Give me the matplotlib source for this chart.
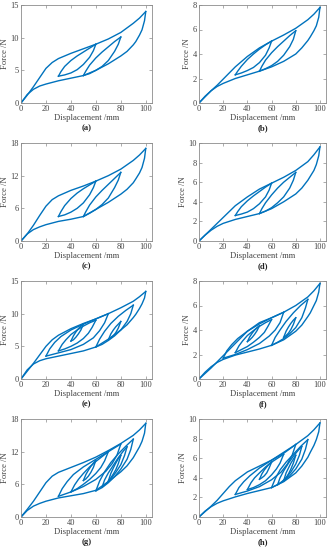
"""
Force-displacement hysteresis loops, panels (a)-(h).
"""

import matplotlib
matplotlib.use("Agg")
import matplotlib.pyplot as plt

LINE_COLOR = "#0072BD"
AXIS_COLOR = "#8c8c8c"

# shared displacement grids for outer loading / unloading branches (mm)
X_UP = [0, 5, 10, 15, 20, 25, 30, 40, 50, 60, 70, 80, 90, 95, 100]
X_DN = [100, 99, 97, 95, 92, 90, 85, 80, 70, 60, 50, 40, 30, 20, 15, 10, 5, 0]

# inner-loop displacement grids (mm)
X_60_30 = [60, 58, 55, 50, 45, 40, 35, 30]
X_30_60 = [30, 32, 35, 40, 45, 50, 55, 60]
X_50_80 = [50, 52, 55, 60, 65, 70, 75, 80]
X_80_50 = [80, 78, 75, 70, 65, 60, 55, 50]
X_70_20 = [70, 67, 63, 58, 50, 40, 30, 20]
X_20_70 = [20, 23, 27, 32, 40, 50, 60, 70]
X_60_30B = [60, 57, 54, 50, 45, 40, 35, 30]
X_30_60B = [30, 33, 36, 40, 45, 50, 55, 60]
X_50_40 = [50, 48, 46, 44, 42, 40]
X_40_50 = [40, 42, 44, 46, 48, 50]
X_60_90 = [60, 63, 67, 72, 78, 84, 90]
X_90_60 = [90, 88, 85, 80, 75, 70, 65, 60]
X_70_80 = [70, 72, 74, 76, 78, 80]
X_80_70 = [80, 78, 76, 74, 72, 70]
X_80_30 = [80, 77, 73, 68, 60, 50, 40, 30]
X_30_80 = [30, 33, 37, 42, 50, 60, 70, 80]
X_70_40 = [70, 67, 64, 60, 55, 50, 45, 40]
X_40_70 = [40, 43, 46, 50, 55, 60, 65, 70]
X_60_50 = [60, 58, 56, 54, 52, 50]
X_50_60 = [50, 52, 54, 56, 58, 60]
X_65_85 = [65, 67, 70, 74, 78, 82, 85]
X_85_65 = [85, 83, 80, 76, 72, 68, 65]

# ---- (a) ----
A_UP = [0, 1.2, 2.5, 3.9, 5.3, 6.2, 6.8, 7.6, 8.3, 9.0, 9.8, 10.8, 12.2, 13.0, 14.0]
A_DN = [14.0, 12.6, 11.2, 10.4, 9.4, 8.9, 7.9, 7.2, 6.0, 5.0, 4.2, 3.8, 3.4, 2.9, 2.6, 2.1, 1.3, 0]
A_L1_DN = [9.0, 8.0, 7.0, 5.9, 5.1, 4.6, 4.3, 4.1]
A_L1_UP = [4.1, 4.8, 5.6, 6.5, 7.2, 7.8, 8.4, 9.0]
A_L2_UP = [4.2, 4.9, 5.8, 6.9, 7.8, 8.6, 9.4, 10.1]
A_L2_DN = [10.1, 9.0, 7.9, 6.5, 5.6, 5.0, 4.5, 4.2]

# ---- (b) ----
B_UP = [0, 0.5, 1.0, 1.45, 1.95, 2.45, 2.95, 3.8, 4.5, 5.05, 5.55, 6.1, 6.8, 7.25, 7.8]
B_DN = [7.8, 7.0, 6.3, 5.9, 5.4, 5.1, 4.5, 4.0, 3.4, 2.95, 2.6, 2.3, 2.0, 1.6, 1.35, 1.0, 0.55, 0]
B_L1_DN = [5.05, 4.5, 3.9, 3.3, 2.9, 2.65, 2.45, 2.3]
B_L1_UP = [2.3, 2.6, 3.0, 3.55, 4.0, 4.4, 4.75, 5.05]
B_L2_UP = [2.6, 3.0, 3.5, 4.1, 4.6, 5.05, 5.5, 5.9]
B_L2_DN = [5.9, 5.2, 4.6, 3.9, 3.4, 3.05, 2.8, 2.6]

# ---- (c) ----
C_UP = [0, 1.3, 2.9, 4.7, 6.4, 7.6, 8.3, 9.3, 10.1, 11.0, 12.0, 13.2, 14.8, 15.8, 17.0]
C_DN = [17.0, 15.2, 13.5, 12.5, 11.4, 10.7, 9.5, 8.6, 7.1, 5.8, 4.5, 4.0, 3.6, 3.0, 2.6, 2.1, 1.3, 0]
C_L1_DN = [11.0, 9.8, 8.5, 7.0, 6.0, 5.3, 4.8, 4.5]
C_L1_UP = [4.5, 5.4, 6.5, 7.8, 8.8, 9.6, 10.3, 11.0]
C_L2_UP = [4.5, 5.4, 6.6, 8.1, 9.3, 10.4, 11.5, 12.6]
C_L2_DN = [12.6, 11.2, 9.8, 7.9, 6.7, 5.8, 5.1, 4.5]

# ---- (d) ----
D_UP = [0, 0.6, 1.2, 1.8, 2.4, 3.0, 3.6, 4.5, 5.3, 5.9, 6.5, 7.2, 8.1, 8.8, 9.6]
D_DN = [9.6, 8.7, 7.8, 7.2, 6.6, 6.2, 5.4, 4.8, 4.0, 3.3, 2.8, 2.5, 2.2, 1.8, 1.5, 1.1, 0.6, 0]
D_L1_DN = [5.9, 5.2, 4.5, 3.8, 3.3, 2.95, 2.75, 2.6]
D_L1_UP = [2.6, 3.0, 3.5, 4.1, 4.6, 5.05, 5.5, 5.9]
D_L2_UP = [2.8, 3.3, 3.9, 4.7, 5.4, 6.0, 6.5, 7.0]
D_L2_DN = [7.0, 6.2, 5.4, 4.5, 3.9, 3.4, 3.05, 2.8]

# ---- (e) ----
E_UP = [0, 1.2, 2.4, 3.7, 5.0, 6.0, 6.7, 7.7, 8.5, 9.2, 10.0, 10.9, 11.9, 12.6, 13.4]
E_DN = [13.4, 12.4, 11.5, 10.8, 9.9, 9.4, 8.3, 7.5, 6.1, 4.9, 4.3, 3.9, 3.5, 3.1, 2.8, 2.3, 1.4, 0]
E_L1_DN = [10.0, 8.6, 7.4, 6.3, 5.3, 4.5, 4.0, 3.5]
E_L1_UP = [3.5, 4.6, 5.6, 6.5, 7.5, 8.4, 9.2, 10.0]
E_L2_DN = [9.0, 7.9, 7.0, 6.2, 5.5, 5.0, 4.6, 4.3]
E_L2_UP = [4.3, 5.3, 6.0, 6.8, 7.5, 8.1, 8.6, 9.0]
E_L3_DN = [8.4, 7.5, 6.9, 6.4, 6.0, 5.8]
E_L3_UP = [5.8, 6.6, 7.2, 7.7, 8.1, 8.4]
E_R1_UP = [4.9, 6.1, 7.3, 8.5, 9.6, 10.5, 11.3]
E_R1_DN = [11.3, 10.0, 8.8, 7.5, 6.6, 5.9, 5.3, 4.9]
E_R2_UP = [6.0, 6.9, 7.5, 8.0, 8.4, 8.8]
E_R2_DN = [8.8, 7.8, 7.1, 6.6, 6.3, 6.0]

# ---- (f) ----
F_UP = [0, 0.45, 0.9, 1.4, 1.9, 2.4, 2.9, 3.9, 4.6, 5.0, 5.45, 6.0, 6.7, 7.2, 7.8]
F_DN = [7.8, 7.1, 6.4, 6.0, 5.4, 5.1, 4.4, 3.9, 3.2, 2.75, 2.45, 2.2, 1.95, 1.6, 1.35, 1.0, 0.55, 0]
F_L1_DN = [5.45, 4.6, 4.0, 3.5, 2.9, 2.4, 2.0, 1.7]
F_L1_UP = [1.7, 2.3, 2.8, 3.3, 3.9, 4.5, 5.0, 5.45]
F_L2_DN = [4.85, 4.3, 3.8, 3.4, 3.0, 2.65, 2.4, 2.15]
F_L2_UP = [2.15, 2.7, 3.1, 3.55, 3.95, 4.3, 4.6, 4.85]
F_L3_DN = [4.35, 3.95, 3.65, 3.4, 3.2, 3.05]
F_L3_UP = [3.05, 3.45, 3.75, 4.0, 4.2, 4.35]
F_R1_UP = [2.75, 3.4, 4.0, 4.7, 5.4, 6.0, 6.5]
F_R1_DN = [6.5, 5.8, 5.0, 4.2, 3.7, 3.3, 3.0, 2.75]
F_R2_UP = [3.4, 3.9, 4.25, 4.55, 4.8, 5.0]
F_R2_DN = [5.0, 4.45, 4.05, 3.75, 3.55, 3.4]

# ---- (g) ----
G_UP = [0, 1.4, 2.9, 4.6, 6.3, 7.5, 8.2, 9.1, 10.0, 11.0, 12.2, 13.5, 15.0, 16.0, 17.2]
G_DN = [17.2, 15.4, 13.9, 12.9, 11.7, 10.9, 9.4, 8.3, 6.5, 4.9, 4.3, 3.9, 3.5, 2.9, 2.5, 2.0, 1.2, 0]
G_L1_DN = [13.4, 11.4, 9.8, 8.4, 6.9, 5.6, 4.6, 3.8]
G_L1_UP = [3.8, 5.2, 6.5, 7.8, 9.2, 10.6, 12.0, 13.4]
G_L2_DN = [12.0, 10.3, 9.1, 8.0, 6.9, 6.0, 5.2, 4.6]
G_L2_UP = [4.6, 5.9, 6.9, 8.0, 9.2, 10.2, 11.1, 12.0]
G_L3_DN = [10.4, 9.1, 8.2, 7.5, 7.0, 6.7]
G_L3_UP = [6.7, 7.8, 8.6, 9.3, 9.9, 10.4]
G_R1_UP = [4.8, 6.6, 8.3, 10.0, 11.6, 13.0, 14.3]
G_R1_DN = [14.3, 12.4, 10.6, 8.8, 7.4, 6.3, 5.4, 4.8]
G_R2_UP = [5.5, 6.8, 8.1, 9.5, 10.9, 12.1, 12.9]
G_R2_DN = [12.9, 11.3, 9.6, 8.2, 7.0, 6.1, 5.5]
G_R3_UP = [6.6, 8.0, 9.0, 9.9, 10.7, 11.3]
G_R3_DN = [11.3, 9.8, 8.7, 7.9, 7.2, 6.6]

# ---- (h) ----
H_UP = [0, 0.55, 1.1, 1.7, 2.4, 3.1, 3.7, 4.6, 5.2, 5.8, 6.5, 7.4, 8.3, 8.9, 9.6]
H_DN = [9.6, 8.7, 7.9, 7.3, 6.6, 6.1, 5.2, 4.5, 3.6, 3.0, 2.7, 2.4, 2.05, 1.65, 1.4, 1.05, 0.6, 0]
H_L1_DN = [7.4, 6.3, 5.4, 4.6, 3.8, 3.1, 2.65, 2.3]
H_L1_UP = [2.3, 3.0, 3.6, 4.2, 5.0, 5.8, 6.6, 7.4]
H_L2_DN = [6.4, 5.5, 4.9, 4.3, 3.7, 3.3, 3.0, 2.8]
H_L2_UP = [2.8, 3.5, 4.0, 4.5, 5.1, 5.6, 6.0, 6.4]
H_L3_DN = [5.6, 5.0, 4.5, 4.2, 4.0, 3.85]
H_L3_UP = [3.85, 4.4, 4.8, 5.1, 5.4, 5.6]
H_R1_UP = [3.0, 3.9, 4.8, 5.6, 6.4, 7.2, 7.9]
H_R1_DN = [7.9, 6.9, 5.9, 4.9, 4.2, 3.7, 3.3, 3.0]
H_R2_UP = [3.3, 4.0, 4.7, 5.5, 6.2, 6.8, 7.2]
H_R2_DN = [7.2, 6.3, 5.4, 4.6, 4.0, 3.55, 3.3]
H_R3_UP = [3.7, 4.5, 5.0, 5.5, 5.9, 6.3]
H_R3_DN = [6.3, 5.5, 4.9, 4.4, 4.0, 3.7]

PANELS = [
    ("(a)", [0, 5, 10, 15], [(X_UP, A_UP), (X_DN, A_DN), (X_60_30, A_L1_DN), (X_30_60, A_L1_UP),
                             (X_50_80, A_L2_UP), (X_80_50, A_L2_DN)]),
    ("(b)", [0, 2, 4, 6, 8], [(X_UP, B_UP), (X_DN, B_DN), (X_60_30, B_L1_DN), (X_30_60, B_L1_UP),
                              (X_50_80, B_L2_UP), (X_80_50, B_L2_DN)]),
    ("(c)", [0, 6, 12, 18], [(X_UP, C_UP), (X_DN, C_DN), (X_60_30, C_L1_DN), (X_30_60, C_L1_UP),
                             (X_50_80, C_L2_UP), (X_80_50, C_L2_DN)]),
    ("(d)", [0, 2, 4, 6, 8, 10], [(X_UP, D_UP), (X_DN, D_DN), (X_60_30, D_L1_DN), (X_30_60, D_L1_UP),
                                  (X_50_80, D_L2_UP), (X_80_50, D_L2_DN)]),
    ("(e)", [0, 5, 10, 15], [(X_UP, E_UP), (X_DN, E_DN), (X_70_20, E_L1_DN), (X_20_70, E_L1_UP),
                             (X_60_30B, E_L2_DN), (X_30_60B, E_L2_UP), (X_50_40, E_L3_DN),
                             (X_40_50, E_L3_UP), (X_60_90, E_R1_UP), (X_90_60, E_R1_DN),
                             (X_70_80, E_R2_UP), (X_80_70, E_R2_DN)]),
    ("(f)", [0, 2, 4, 6, 8], [(X_UP, F_UP), (X_DN, F_DN), (X_70_20, F_L1_DN), (X_20_70, F_L1_UP),
                              (X_60_30B, F_L2_DN), (X_30_60B, F_L2_UP), (X_50_40, F_L3_DN),
                              (X_40_50, F_L3_UP), (X_60_90, F_R1_UP), (X_90_60, F_R1_DN),
                              (X_70_80, F_R2_UP), (X_80_70, F_R2_DN)]),
    ("(g)", [0, 6, 12, 18], [(X_UP, G_UP), (X_DN, G_DN), (X_80_30, G_L1_DN), (X_30_80, G_L1_UP),
                             (X_70_40, G_L2_DN), (X_40_70, G_L2_UP), (X_60_50, G_L3_DN),
                             (X_50_60, G_L3_UP), (X_60_90, G_R1_UP), (X_90_60, G_R1_DN),
                             (X_65_85, G_R2_UP), (X_85_65, G_R2_DN), (X_70_80, G_R3_UP),
                             (X_80_70, G_R3_DN)]),
    ("(h)", [0, 2, 4, 6, 8, 10], [(X_UP, H_UP), (X_DN, H_DN), (X_80_30, H_L1_DN), (X_30_80, H_L1_UP),
                                  (X_70_40, H_L2_DN), (X_40_70, H_L2_UP), (X_60_50, H_L3_DN),
                                  (X_50_60, H_L3_UP), (X_60_90, H_R1_UP), (X_90_60, H_R1_DN),
                                  (X_65_85, H_R2_UP), (X_85_65, H_R2_DN), (X_70_80, H_R3_UP),
                                  (X_80_70, H_R3_DN)]),
]

W, H = 335, 550
ROW_TOPS = [5, 143, 281, 419]
AX_H = 98
COLS = [(21, 131), (199, 127)]

plt.rcParams["font.family"] = ["Liberation Serif", "DejaVu Serif"]

fig = plt.figure(figsize=(W / 100, H / 100), dpi=100)

for i, (label, yticks, branches) in enumerate(PANELS):
    row, col = divmod(i, 2)
    left, width = COLS[col]
    top = ROW_TOPS[row]
    ax = fig.add_axes([left / W, 1 - (top + AX_H) / H, width / W, AX_H / H])
    for xs, ys in branches:
        ax.plot(xs, ys, color=LINE_COLOR, lw=1.0, solid_joinstyle="round")

    ax.set_xlim(0, 105)
    ax.set_ylim(yticks[0], yticks[-1])
    ax.set_xticks([0, 20, 40, 60, 80, 100])
    ax.set_yticks(yticks)
    ax.tick_params(direction="in", top=True, right=True, length=2, width=0.5,
                   colors=AXIS_COLOR, labelcolor="#444444", labelsize=6, pad=1.5)
    for sp in ax.spines.values():
        sp.set_color(AXIS_COLOR)
        sp.set_linewidth(0.6)
    ax.set_xlabel("Displacement /mm", fontsize=6.2, color="#444444", labelpad=1)
    ax.set_ylabel("Force /N", fontsize=6.2, color="#444444", labelpad=1)

    fig.text((left + width / 2) / W, 1 - (top + AX_H + 25) / H, label,
             ha="center", va="center", fontsize=6.2, fontweight="bold", color="#222222")

fig.savefig("out.png", dpi=100)
